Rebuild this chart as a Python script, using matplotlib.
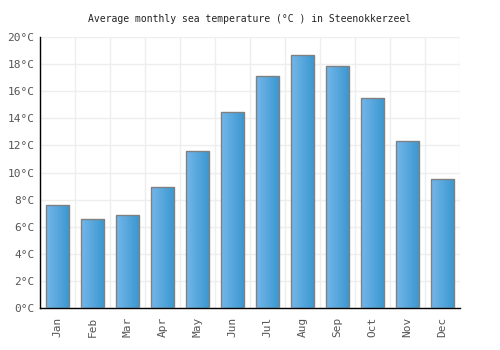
import matplotlib
matplotlib.use("Agg")
import matplotlib.pyplot as plt
import numpy as np
from matplotlib.colors import LinearSegmentedColormap
from matplotlib.patches import Rectangle

months = ["Jan", "Feb", "Mar", "Apr", "May", "Jun", "Jul", "Aug", "Sep", "Oct", "Nov", "Dec"]
temps = [7.6, 6.6, 6.9, 8.9, 11.6, 14.5, 17.1, 18.7, 17.9, 15.5, 12.3, 9.5]
yticks = [0, 2, 4, 6, 8, 10, 12, 14, 16, 18, 20]

plt.rcParams['font.family'] = ['DejaVu Sans Mono']
fig = plt.figure(figsize=(5, 3.5), dpi=100)
ax = fig.add_axes([0.08, 0.12, 0.84, 0.774])

x = np.arange(len(months))
width = 0.68
cmap = LinearSegmentedColormap.from_list("g", ["#74b6ea", "#3997cf"])
grad = np.linspace(0, 1, 64).reshape(1, -1)
bars = ax.bar(x, temps, width=width, color="none", edgecolor="#808080", linewidth=1, zorder=3)
for b in bars:
    x0, y0 = b.get_x(), b.get_y()
    w, h = b.get_width(), b.get_height()
    im = ax.imshow(grad, extent=[x0, x0 + w, y0, y0 + h], cmap=cmap, aspect="auto", zorder=2)
    im.set_clip_path(Rectangle((x0, y0), w, h, transform=ax.transData))

ax.set_xlim(-0.5, len(months) - 0.5)
ax.set_ylim(0, 20)
ax.set_yticks(yticks)
ax.set_yticklabels([f"{t}°C" for t in yticks], fontsize=8, color="#555555")
ax.set_xticks(x)
ax.set_xticklabels(months, rotation=90, fontsize=8, color="#555555")
ax.set_xticks(np.arange(-0.5, len(months), 1), minor=True)
ax.grid(True, which="major", axis="y", color="#eeeeee", linewidth=1, zorder=0)
ax.grid(True, which="minor", axis="x", color="#eeeeee", linewidth=1, zorder=0)
ax.tick_params(which="both", length=0)
ax.tick_params(axis="y", pad=4)
ax.tick_params(axis="x", pad=6)
for s in ["top", "right"]:
    ax.spines[s].set_visible(False)
for s in ["left", "bottom"]:
    ax.spines[s].set_color("black")
    ax.spines[s].set_linewidth(1)

fig.text(0.5, 0.945, "Average monthly sea temperature (°C ) in Steenokkerzeel", ha="center", va="center", fontsize=7, color="#222222")
fig.savefig("out.png", dpi=100)
